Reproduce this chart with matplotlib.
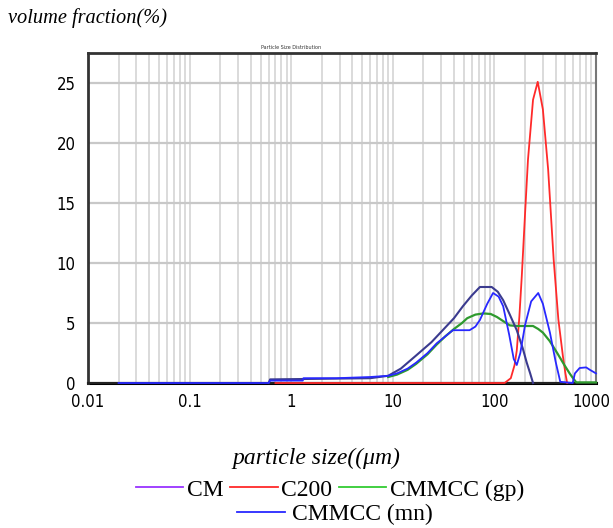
import matplotlib
matplotlib.use("Agg")
import matplotlib.pyplot as plt
from matplotlib.lines import Line2D
from matplotlib import font_manager
from matplotlib.transforms import ScaledTranslation
import numpy as np

# ---- data ----
cm_x = [0.6, 0.62, 6, 9, 12, 17, 24, 31, 40, 49, 60, 72, 94, 108, 122, 140, 166, 190, 208, 225, 240]
cm_y = [0, 0.3, 0.4, 0.6, 1.2, 2.3, 3.4, 4.4, 5.4, 6.4, 7.3, 8.0, 8.0, 7.6, 6.9, 5.8, 4.4, 2.9, 1.7, 0.8, 0]

mn_x = [0.02, 0.6, 0.62, 1.3, 1.32, 2.8, 6, 9, 11, 14, 17, 22, 27, 33, 39, 48, 57, 65, 72, 85, 97,
        110, 122, 140, 155, 166, 180, 200, 230, 270, 300, 352, 400, 445, 590, 620, 690, 800, 870, 1000]
mn_y = [0, 0, 0.2, 0.2, 0.4, 0.4, 0.5, 0.6, 0.8, 1.2, 1.7, 2.5, 3.3, 3.9, 4.4, 4.4, 4.4, 4.7, 5.25, 6.6, 7.5,
        7.2, 6.4, 4.0, 2.0, 1.5, 2.5, 4.8, 6.8, 7.5, 6.6, 4.2, 1.8, 0.1, 0, 0.8, 1.25, 1.3, 1.1, 0.8]

gp_x = [9, 11, 14, 17, 22, 27, 33, 40, 48, 54, 65, 78, 92, 106, 125, 142, 170, 200, 240, 270, 300,
        350, 415, 480, 550, 600, 640, 1000]
gp_y = [0.5, 0.7, 1.1, 1.6, 2.4, 3.2, 3.9, 4.5, 5.0, 5.4, 5.7, 5.8, 5.75, 5.5, 5.1, 4.8, 4.75, 4.75, 4.75, 4.5, 4.2,
        3.5, 2.5, 1.6, 0.8, 0.35, 0.05, 0.05]

c200_x = [0.7, 126, 145, 158, 166, 176, 186, 200, 214, 240, 267, 300, 338, 383, 426, 473, 500, 520]
c200_y = [0, 0, 0.4, 1.5, 2.7, 5.5, 8.9, 14, 18.6, 23.6, 25.1, 22.8, 17.8, 10.3, 5.3, 2.2, 0.8, 0]

y_ticks = [0, 5, 10, 15, 20, 25]
x_ticks = [0.01, 0.1, 1, 10, 100, 1000]
x_ticklabels = ["0.01", "0.1", "1", "10", "100", "1000"]
legend_labels = ["CM", "C200", "CMMCC (gp)", "CMMCC (mn)"]

serif = ["Liberation Serif", "DejaVu Serif"]
tick_fp = font_manager.FontProperties(family="DejaVu Sans", stretch="condensed", size=12)

fig = plt.figure(figsize=(6.13, 5.28), dpi=100)
ax = fig.add_axes([88 / 613, 1 - 383 / 528, (596 - 88) / 613, (383 - 53) / 528])

ax.set_xscale("log")
ax.set_xlim(0.01, 1000)
ax.set_ylim(0, 27.5)

ax.set_xticks(x_ticks)
ax.set_xticklabels(x_ticklabels, fontproperties=tick_fp)
ax.set_yticks(y_ticks)
ax.set_yticklabels([str(v) for v in y_ticks], fontproperties=tick_fp)
ax.xaxis.set_minor_locator(matplotlib.ticker.LogLocator(base=10, subs=np.arange(2, 10)))
ax.xaxis.set_minor_formatter(matplotlib.ticker.NullFormatter())
ax.grid(True, which="both", axis="x", color="#d4d4d4", lw=1.2)
ax.grid(True, which="major", axis="y", color="#c8c8c8", lw=1.6)
ax.tick_params(axis="x", which="both", length=0, pad=7)
ax.tick_params(axis="y", which="both", length=0, pad=9)
ax.set_axisbelow(True)

# nudge the last x tick label so it stays inside the figure
last = ax.get_xticklabels()[-1]
last.set_transform(last.get_transform() + ScaledTranslation(-5 / 100, 0, fig.dpi_scale_trans))

for s in ["top", "left"]:
    ax.spines[s].set_color("#333333")
    ax.spines[s].set_linewidth(2)
ax.spines["right"].set_color("#777777")
ax.spines["right"].set_linewidth(1.5)
ax.spines["bottom"].set_color("#222222")
ax.spines["bottom"].set_linewidth(1.5)

ax.plot([0.01, 1000], [0, 0], color="black", lw=2.2, zorder=2, clip_on=False)
ax.plot(c200_x, c200_y, color="#ff2a2a", lw=1.3, zorder=3, clip_on=False)
ax.plot(gp_x, gp_y, color="#2e9a2e", lw=1.6, zorder=4, clip_on=False)
ax.plot(cm_x, cm_y, color="#3b3b8f", lw=1.5, zorder=5, clip_on=False)
ax.plot(mn_x, mn_y, color="#2828ff", lw=1.3, zorder=6, clip_on=False)

ax.text(0.4, 1.01, "Particle Size Distribution", transform=ax.transAxes, fontsize=3.5,
        ha="center", va="bottom", color="#333333")

fig.text(8 / 613, 1 - 18 / 528, "volume fraction(%)", family=serif, style="italic",
         fontsize=14.7, ha="left", va="center")
fig.text(316 / 613, 1 - 458 / 528, "particle size((\u03bcm)", family=serif, style="italic",
         fontsize=17, ha="center", va="center")

leg_colors = ["#9933ff", "#ff2a2a", "#33cc33", "#2828ff"]
handles = [Line2D([], [], color=c, lw=1.3) for c in leg_colors]
fig.legend(handles[:3], legend_labels[:3], loc="center", bbox_to_anchor=(330 / 613, 1 - 490 / 528),
           ncol=3, frameon=False, prop={"family": serif, "size": 17},
           handlelength=2.0, handletextpad=0.15, columnspacing=0.3, borderpad=0)
fig.legend(handles[3:], legend_labels[3:], loc="center", bbox_to_anchor=(335 / 613, 1 - 514 / 528),
           ncol=1, frameon=False, prop={"family": serif, "size": 17},
           handlelength=2.0, handletextpad=0.3, borderpad=0)

fig.savefig("out.png", dpi=100)
